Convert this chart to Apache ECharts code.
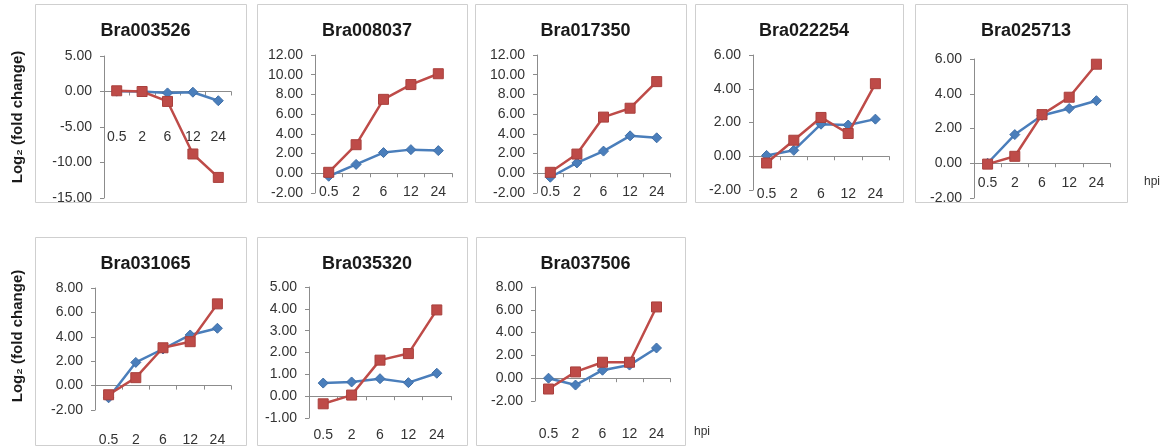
<!DOCTYPE html>
<html>
<head>
<meta charset="utf-8">
<script src="https://cdn.jsdelivr.net/npm/echarts@6/dist/echarts.min.js"></script>
<style>
html,body{margin:0;padding:0;background:#fff;}
#chart{width:1173px;height:448px;}
</style>
</head>
<body>
<div id="chart"></div>
<script>
// ---- data ----
const categories = ['0.5', '2', '6', '12', '24'];
const genes = ['Bra003526', 'Bra008037', 'Bra017350', 'Bra022254', 'Bra025713', 'Bra031065', 'Bra035320', 'Bra037506'];

const blueBra003526 = [0.05, 0.0, -0.2, -0.1, -1.3];
const redBra003526  = [0.1, 0.0, -1.4, -8.8, -12.1];
const blueBra008037 = [-0.3, 0.9, 2.1, 2.4, 2.3];
const redBra008037  = [0.1, 2.9, 7.5, 9.0, 10.1];
const blueBra017350 = [-0.4, 1.05, 2.25, 3.8, 3.6];
const redBra017350  = [0.1, 1.95, 5.7, 6.6, 9.3];
const blueBra022254 = [0.05, 0.35, 1.9, 1.85, 2.2];
const redBra022254  = [-0.4, 0.95, 2.3, 1.35, 4.3];
const blueBra025713 = [0.0, 1.65, 2.75, 3.15, 3.6];
const redBra025713  = [-0.05, 0.4, 2.8, 3.8, 5.7];
const blueBra031065 = [-1.0, 1.9, 3.0, 4.15, 4.7];
const redBra031065  = [-0.75, 0.65, 3.1, 3.6, 6.7];
const blueBra035320 = [0.6, 0.65, 0.8, 0.62, 1.05];
const redBra035320  = [-0.35, 0.05, 1.65, 1.95, 3.95];
const blueBra037506 = [0.0, -0.6, 0.7, 1.15, 2.65];
const redBra037506  = [-0.95, 0.55, 1.4, 1.4, 6.25];

const blueValues = [blueBra003526, blueBra008037, blueBra017350, blueBra022254, blueBra025713, blueBra031065, blueBra035320, blueBra037506];
const redValues  = [redBra003526, redBra008037, redBra017350, redBra022254, redBra025713, redBra031065, redBra035320, redBra037506];

// y-axis ranges (min, max, interval)
const yMins      = [-15, -2, -2, -2, -2, -2, -1, -2];
const yMaxs      = [5, 12, 12, 6, 6, 8, 5, 8];
const yIntervals = [5, 2, 2, 2, 2, 2, 1, 2];

const yTitle = 'Log\u2082 (fold change)';
const xUnit = 'hpi';

// ---- layout ----
const panels = [ // box x0, x1, y0, y1
  [35, 246, 4, 202], [257, 467, 4, 202], [475, 686, 4, 202], [695, 903, 4, 202], [915, 1127, 4, 202],
  [35, 246, 237, 445], [257, 467, 237, 445], [476, 685, 237, 445]
];
const grids = [ // left, top, width, height
  [104, 56, 127, 142], [315, 55, 137, 138], [537, 55, 133, 138], [753, 55, 136, 135], [974, 59, 136, 139],
  [95, 288, 136, 122], [309, 287, 142, 131], [535, 287, 135, 114]
];
// x label offsets measured from the bottom of each plot
const labelMargins = [-68, -8, -8, -3, -22, 23, 10, 26];

const FONT = '"Liberation Sans", Arial, sans-serif';
const BLUE = '#4a7ebb';
const RED = '#be4b48';
const AXIS = '#8c8c8c';

const option = {
  backgroundColor: '#fff',
  animation: false,
  title: [],
  grid: [],
  xAxis: [],
  yAxis: [],
  series: [],
  graphic: []
};

genes.forEach((g, i) => {
  const p = panels[i], gr = grids[i];
  option.graphic.push({
    type: 'rect', shape: {x: p[0] + 0.5, y: p[2] + 0.5, width: p[1] - p[0], height: p[3] - p[2]},
    style: {fill: 'none', stroke: '#cfcfcf', lineWidth: 1}, z: 0
  });
  option.title.push({
    text: g, left: (p[0] + p[1]) / 2, top: p[2] + 13, textAlign: 'center',
    textStyle: {fontFamily: FONT, fontSize: 18, fontWeight: 'bold', color: '#1a1a1a'}
  });
  option.grid.push({left: gr[0], top: gr[1], width: gr[2], height: gr[3], containLabel: false});
  option.xAxis.push({
    type: 'category', gridIndex: i, data: categories, boundaryGap: true,
    axisLine: {onZero: true, lineStyle: {color: AXIS, width: 1}},
    axisTick: {show: true, length: 4, inside: false, lineStyle: {color: AXIS}},
    axisLabel: {margin: labelMargins[i], fontFamily: FONT, fontSize: 14, color: '#333', interval: 0},
    splitLine: {show: false}
  });
  option.yAxis.push({
    type: 'value', gridIndex: i, min: yMins[i], max: yMaxs[i], interval: yIntervals[i],
    axisLine: {show: true, onZero: false, lineStyle: {color: AXIS, width: 1}},
    axisTick: {show: true, length: 4, lineStyle: {color: AXIS}},
    axisLabel: {margin: 12, fontFamily: FONT, fontSize: 14, color: '#333', formatter: v => v.toFixed(2)},
    splitLine: {show: false}
  });
  option.series.push({
    type: 'line', xAxisIndex: i, yAxisIndex: i, data: blueValues[i],
    symbol: 'diamond', symbolSize: 10, showAllSymbol: true,
    lineStyle: {color: BLUE, width: 2.5}, itemStyle: {color: BLUE, borderColor: '#3f6fa8', borderWidth: 1},
    z: 3
  });
  option.series.push({
    type: 'line', xAxisIndex: i, yAxisIndex: i, data: redValues[i],
    symbol: 'rect', symbolSize: 10, showAllSymbol: true,
    lineStyle: {color: RED, width: 2.5}, itemStyle: {color: RED, borderColor: '#a9403d', borderWidth: 1},
    z: 4
  });
});

// y-axis titles
[117, 336].forEach(cy => {
  option.graphic.push({
    type: 'text', x: 18, y: cy, rotation: Math.PI / 2,
    style: {text: yTitle, fontFamily: FONT, fontSize: 15, fontWeight: 'bold', fill: '#1a1a1a',
            align: 'center', verticalAlign: 'middle'}
  });
});
// hpi labels
[[1152, 182], [702, 432]].forEach(pt => {
  option.graphic.push({
    type: 'text', x: pt[0], y: pt[1],
    style: {text: xUnit, fontFamily: FONT, fontSize: 12, fill: '#333', align: 'center', verticalAlign: 'middle'}
  });
});

const chart = echarts.init(document.getElementById('chart'), null, {renderer: 'canvas'});
chart.setOption(option);
</script>
</body>
</html>
